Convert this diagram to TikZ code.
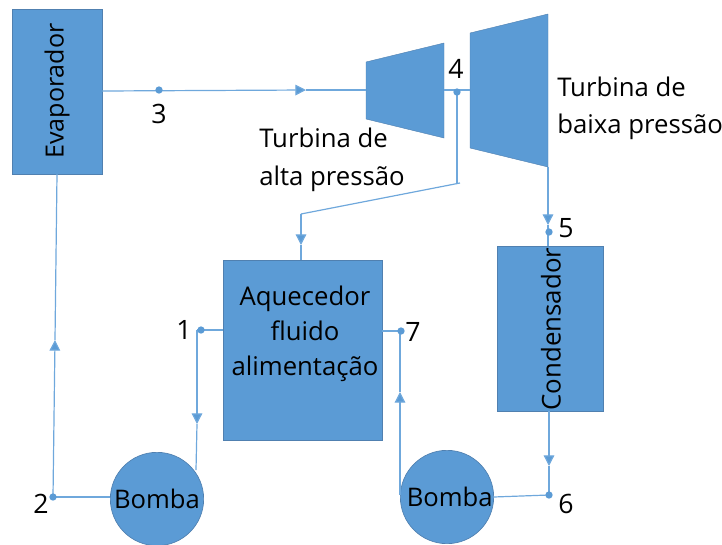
\documentclass[tikz,border=0pt]{standalone}
\usepackage{fontspec}
\setmainfont{Open Sans}
\usetikzlibrary{arrows.meta}
\definecolor{bl}{HTML}{5B9BD5}
\definecolor{ln}{HTML}{6FA8DC}
\definecolor{edge}{HTML}{5080B0}
\tikzset{
  x=0.75pt,y=-0.75pt,
  boxn/.style={draw=edge,line width=0.6pt,fill=bl,inner sep=0,outer sep=0,anchor=north west},
  pump/.style={circle,draw=edge,line width=0.5pt,fill=bl,inner sep=0,outer sep=0,minimum size=70pt,font=\fontsize{19.2}{22}\selectfont},
  turb/.style={fill=bl,draw=edge,line width=0.3pt},
  flow/.style={draw=ln,line width=0.9pt},
  tip/.style={draw=ln,line width=0.9pt,-{Triangle[length=8pt,width=8pt,fill=bl]}},
  dot/.style={circle,fill=bl,draw=none,inner sep=0,minimum size=5.5pt},
  lab/.style={font=\fontsize{20}{23}\selectfont,text=black,inner sep=0},
  txt/.style={font=\fontsize{19.3}{27.5}\selectfont,text=black,inner sep=0,align=left,anchor=north west}
}
\begin{document}
\begin{tikzpicture}
\useasboundingbox (0,0) rectangle (722,544);
% coordinates
\coordinate (p3a) at (102,91);
\coordinate (m3) at (306,90);
\coordinate (hpin) at (366,90);
\coordinate (hpout) at (444,90);
\coordinate (lpin) at (470,90);
\coordinate (tee) at (457,92);
\coordinate (bend1) at (457,184);
\coordinate (bend1b) at (460,183);
\coordinate (bend2) at (301,214);
\coordinate (m4) at (301,245);
\coordinate (lpout) at (548,167);
\coordinate (m5) at (548,225);
\coordinate (c1) at (197,330);
\coordinate (m1) at (197,424);
\coordinate (p1top) at (196,470);
\coordinate (m2) at (55,340);
\coordinate (c2) at (53,497);
\coordinate (m7) at (400,392);
\coordinate (c7) at (400,331);
\coordinate (p2left) at (400,495);
\coordinate (m6) at (549,466);
\coordinate (c6) at (549,495);
% boxes
\node[boxn,minimum width=67.5pt,minimum height=123.75pt] (evap) at (12,9) {};
\node[boxn,minimum width=79.5pt,minimum height=123.75pt] (cond) at (497,246) {};
\node[boxn,minimum width=119.25pt,minimum height=135pt] (aq) at (223,260) {};
\node[pump] (b1) at (157,499) {Bomba};
\node[pump] (b2) at (447,497) {\hspace*{4pt}Bomba};
\path[turb] (366,62) -- (444,43) -- (444,138) -- (366,119) -- cycle;
\path[turb] (470,33) -- (548,14) -- (548,167) -- (470,148) -- cycle;
% connectors
\draw[tip] (p3a) -- (m3);
\draw[flow] (m3) -- (hpin);
\draw[flow] (hpout) -- (lpin);
\draw[flow] (tee) -- (bend1);
\draw[flow] (bend1b) -- (bend2);
\draw[tip] (bend2) -- (m4);
\draw[flow] (m4) -- (aq.north west -| m4);
\draw[tip] (lpout) -- (m5);
\draw[flow] (m5) -- (cond.north west -| m5);
\draw[flow] (aq.west |- c1) -- (c1);
\draw[tip] (c1) -- (m1);
\draw[flow] (m1) -- (p1top);
\draw[flow] (b1.west |- c2) -- (c2);
\draw[tip] (c2) -- (m2);
\draw[flow] (m2) -- (57,174);
\draw[tip] (p2left) -- (m7);
\draw[flow] (m7) -- (c7);
\draw[flow] (aq.east |- c7) -- (c7);
\draw[flow] (b2.east) -- (c6);
\draw[tip] (cond.south west -| c6) -- (m6);
\draw[flow] (m6) -- (c6);
% dots
\node[dot] (d3) at (159,90) {};
\node[dot] (d4) at (457,92) {};
\node[dot] (d5) at (549,232) {};
\node[dot] (d1) at (201,330) {};
\node[dot] (d2) at (53,497) {};
\node[dot] (d7) at (401,331) {};
\node[dot] (d6) at (549,495) {};
% labels
\node[lab] (l3) at (159,114) {3};
\node[lab] (l4) at (456,69) {4};
\node[lab] (l5) at (566,228) {5};
\node[lab] (l1) at (184,330) {1};
\node[lab] (l2) at (41,504) {2};
\node[lab] (l7) at (413,332) {7};
\node[lab] (l6) at (566,504) {6};
\node[txt,font=\fontsize{19.3}{28.5}\selectfont] (t1) at (259,128) {Turbina de\\alta pressão};
\node[txt] (t2) at (557,77) {Turbina de\\baixa pressão};
\node[txt,align=center,anchor=center,font=\fontsize{19.3}{26.2}\selectfont] (t3) at (305,334) {Aquecedor\\fluido\\alimentação};
\node[lab,rotate=90,font=\fontsize{18.8}{22}\selectfont] (t4) at (57,91) {Evaporador};
\node[lab,rotate=90,font=\fontsize{19.4}{22}\selectfont] (t5) at (551,329) {Condensador};
\end{tikzpicture}
\end{document}
